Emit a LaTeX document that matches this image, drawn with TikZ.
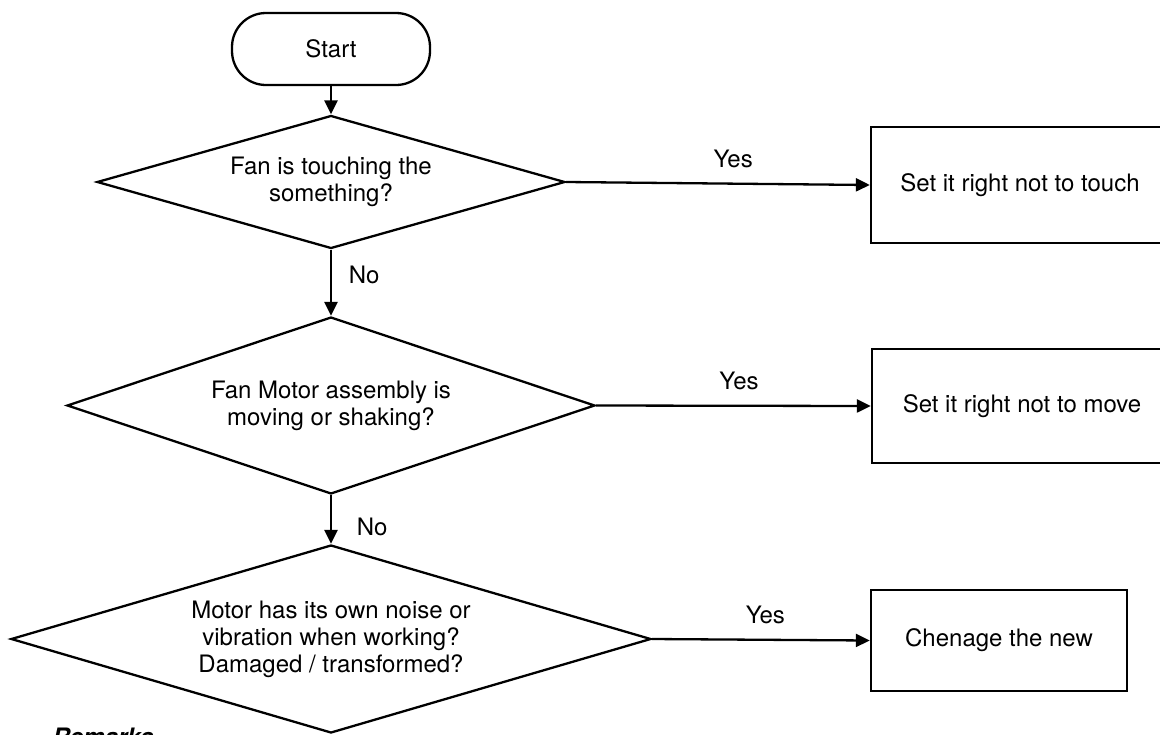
\documentclass[tikz,border=0pt]{standalone}
\usepackage{fontspec}
\setmainfont{TeX Gyre Heros}
\usetikzlibrary{arrows.meta,shapes.geometric}

\begin{document}
\begin{tikzpicture}[
    x=0.5pt, y=-0.5pt,
    font=\fontsize{12}{13.5}\selectfont,
    line width=1.15pt,
    terminal/.style={draw, rounded corners=17pt, minimum width=99pt, minimum height=36pt, inner sep=0pt},
    question/.style={draw, diamond, align=center, inner sep=0pt, shape aspect=3.4},
    action/.style={draw, align=center, inner sep=0pt},
    flow/.style={-{Triangle[length=7pt,width=6.5pt]}},
    answer/.style={font=\fontsize{12}{13.5}\selectfont}
]
\useasboundingbox (0,0) rectangle (1160,734);

\node[terminal] (start) at (331,49) {Start};

\node[question, minimum width=234pt, minimum height=66.5pt] (q1) at (331,182) {Fan is touching the\\something?};
\node[question, minimum width=264pt, minimum height=88.5pt] (q2) at (331,405.5) {Fan Motor assembly is\\moving or shaking?};
\node[question, minimum width=320pt, minimum height=94pt] (q3) at (331,639) {Motor has its own noise or\\vibration when working?\\Damaged / transformed?};

\node[action, minimum width=149pt, minimum height=58pt] (fix1) at (1020,185) {Set it right not to touch};
\node[action, minimum width=150pt, minimum height=57pt] (fix2) at (1022,406) {Set it right not to move};
\node[action, minimum width=128pt, minimum height=50.5pt] (fix3) at (999,640.5) {Chenage the new};

\draw[flow] (start) -- (q1);
\draw[flow] (q1.south) -- node[answer, right=5pt, pos=0.38]{No} (q2.north);
\draw[flow] (q2.south) -- node[answer, right=9pt, pos=0.66]{No} (q3.north);
\draw[flow] (q1.east) -- node[answer, above=4pt, pos=0.55]{Yes} (fix1.west);
\draw[flow] (q2.east) -- node[answer, above=4pt, pos=0.52]{Yes} (fix2.west);
\draw[flow] (q3.east) -- node[answer, above=4pt, pos=0.52]{Yes} (fix3.west);

% cut off by the page edge, as in the original
\node[anchor=base west] (remarks) at (45,745) {\textbf{\textit{Remarks}}};
\end{tikzpicture}
\end{document}
